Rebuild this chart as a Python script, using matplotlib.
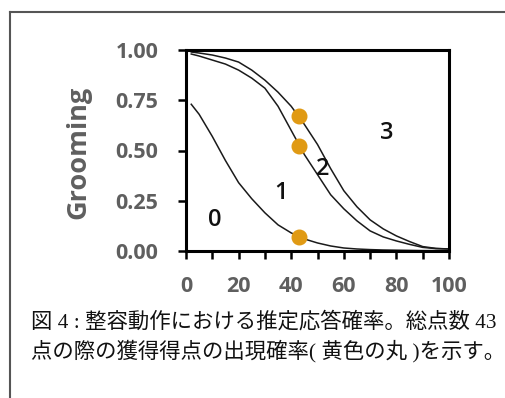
import matplotlib.pyplot as plt
from matplotlib.lines import Line2D

# score (x) and cumulative response probability
score = [2, 5, 10, 15, 20, 25, 30, 35, 40, 45, 50, 55, 60, 65, 70, 75, 80, 85, 90, 95, 100]
curve_01 = [0.73, 0.68, 0.57, 0.45, 0.34, 0.26, 0.19, 0.13, 0.09, 0.06, 0.04, 0.025, 0.015,
            0.01, 0.007, 0.005, 0.004, 0.003, 0.002, 0.002, 0.001]
curve_12 = [0.98, 0.97, 0.95, 0.93, 0.90, 0.86, 0.81, 0.72, 0.60, 0.48, 0.38, 0.28, 0.21,
            0.15, 0.10, 0.07, 0.05, 0.033, 0.018, 0.012, 0.01]
curve_23 = [0.99, 0.985, 0.975, 0.96, 0.94, 0.90, 0.85, 0.79, 0.72, 0.63, 0.53, 0.41, 0.30,
            0.22, 0.155, 0.11, 0.075, 0.047, 0.022, 0.013, 0.01]

# observed points at total score 43
dot_x = [43, 43, 43]
dot_y = [0.07, 0.52, 0.67]

region_labels = ["0", "1", "2", "3"]
region_x = [10.8, 36.1, 52, 76.5]
region_y = [0.155, 0.29, 0.41, 0.585]

xticks = [0, 20, 40, 60, 80, 100]
yticks = [0.0, 0.25, 0.5, 0.75, 1.0]
caption = "図 4 : 整容動作における推定応答確率。総点数 43\n点の際の獲得得点の出現確率( 黄色の丸 )を示す。"

gray = "#5f5f5f"

fig = plt.figure(figsize=(5.06, 3.98), dpi=100)

# outer frame (runs off the right and bottom edges)
fx, fy = 10 / 506, 1 - 12 / 398
fig.lines.append(Line2D([fx, fx], [-0.05, fy], transform=fig.transFigure,
                        color="#555555", linewidth=1.5))
fig.lines.append(Line2D([fx, 1.05], [fy, fy], transform=fig.transFigure,
                        color="#555555", linewidth=1.5))

ax = fig.add_axes([186 / 506, 1 - 251 / 398, 263 / 506, 201 / 398])
for c in (curve_01, curve_12, curve_23):
    ax.plot(score, c, color="#1a1a1a", linewidth=1.1, clip_on=False)
ax.plot(dot_x, dot_y, "o", color="#E09A14", markersize=10.5, zorder=5)

for t, x, y in zip(region_labels, region_x, region_y):
    ax.text(x, y, t, fontsize=17, family="Open Sans", fontweight="semibold",
            ha="center", va="center", color="#111111")

ax.set_xlim(0, 100)
ax.set_ylim(0, 1)
ax.set_xticks(xticks)
ax.set_xticks(range(0, 101, 10), minor=True)
ax.set_yticks(yticks)
ax.set_yticklabels(["%.2f" % v for v in yticks])
for s in ax.spines.values():
    s.set_linewidth(2.2)
    s.set_color("black")
ax.tick_params(which="both", direction="out", length=5.8, width=1.8, color="black")
ax.tick_params(axis="x", pad=12)
ax.tick_params(axis="y", pad=14)
for lab in ax.get_xticklabels() + ax.get_yticklabels():
    lab.set_family("Open Sans")
    lab.set_fontweight("bold")
    lab.set_fontsize(15.5)
    lab.set_color(gray)

ax.set_ylabel("Grooming", fontsize=19.5, family="Open Sans", fontweight="bold",
              color=gray)
ax.yaxis.set_label_coords(-0.36, 0.49)

fig.text(31 / 506, 1 - 337 / 398, caption, fontsize=15.4,
         family=["Liberation Serif", "Noto Sans CJK JP"], color="#111111",
         ha="left", va="center", linespacing=1.4)

fig.savefig("out.png", dpi=100)
